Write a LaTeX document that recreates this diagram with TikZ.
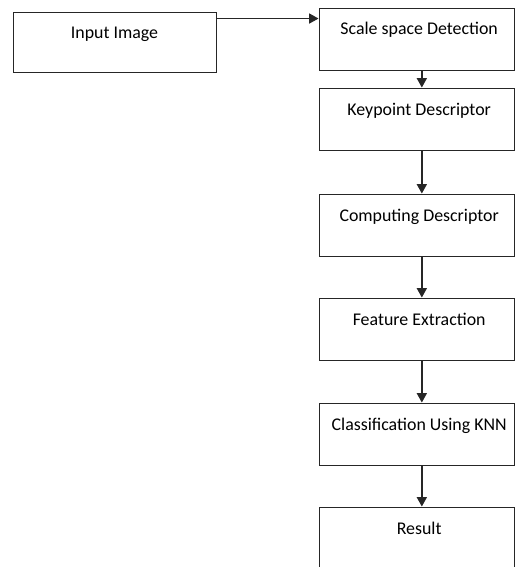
\documentclass[tikz,border=0pt]{standalone}
\usepackage{fontspec}
\setmainfont{Carlito}
\usetikzlibrary{arrows.meta}

\begin{document}
\begin{tikzpicture}[x=0.75pt, y=-0.75pt,
    box/.style={draw=black!85, line width=0.7pt, inner sep=0pt,
      minimum width=146.25pt, text height=20.25pt, text depth=26.25pt,
      font=\fontsize{13.4}{16}\selectfont},
    arr/.style={draw=black!85, line width=1pt,
      -{Triangle[length=7pt, width=7.5pt]}}]

  \useasboundingbox (0,0) rectangle (515,567);

  \node[box, minimum width=152.25pt, text height=20.25pt, text depth=24.75pt]
    (input) at (114.5,42) {Input Image};

  \node[box] (scale) at (416.5,39) {\hspace{4pt}Scale space Detection};
  \node[box] (key) at (416.5,119) {\hspace{4pt}Keypoint Descriptor};
  \node[box] (comp) at (416.5,225) {\hspace{4pt}Computing Descriptor};
  \node[box] (feat) at (416.5,329) {\hspace{4pt}Feature Extraction};
  \node[box] (class) at (416.5,434) {\hspace{4pt}Classification Using KNN};
  \node[box] (result) at (416.5,538) {\hspace{4pt}Result};

  \draw[arr] ([yshift=-5.25pt]input.north east) -- ([yshift=-5.25pt]input.north east -| scale.west);

  \draw[arr] ([xshift=4pt]scale.south) -- ([xshift=4pt]key.north);
  \draw[arr] ([xshift=4pt]key.south) -- ([xshift=4pt]comp.north);
  \draw[arr] ([xshift=4pt]comp.south) -- ([xshift=4pt]feat.north);
  \draw[arr] ([xshift=4pt]feat.south) -- ([xshift=4pt]class.north);
  \draw[arr] ([xshift=4pt]class.south) -- ([xshift=4pt]result.north);

\end{tikzpicture}
\end{document}
